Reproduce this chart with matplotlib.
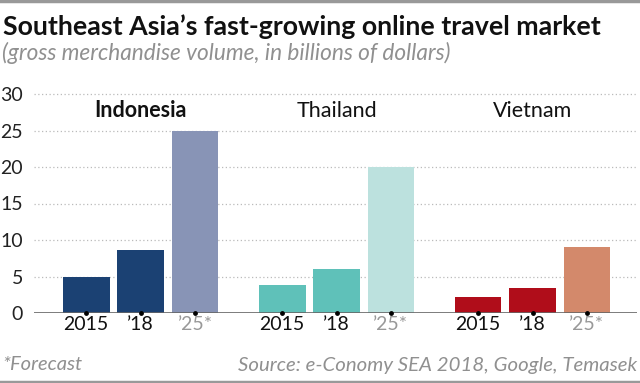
import matplotlib.pyplot as plt
import matplotlib.lines as mlines

plt.rcParams['font.family'] = ['Lato', 'DejaVu Sans']

countries = ["Indonesia", "Thailand", "Vietnam"]
years = ["2015", "\u201918", "\u201925*"]
values = {
    "Indonesia": [5.0, 8.6, 25.0],
    "Thailand": [3.8, 6.0, 20.0],
    "Vietnam": [2.2, 3.4, 9.0],
}
colors = {
    "Indonesia": ["#1b4173", "#1b4173", "#8894b6"],
    "Thailand": ["#5fc1b9", "#5fc1b9", "#bce1de"],
    "Vietnam": ["#b00d1a", "#b00d1a", "#d3896b"],
}
yticks = [0, 5, 10, 15, 20, 25, 30]

fig = plt.figure(figsize=(6.4, 3.83), dpi=100)
ax = fig.add_axes([34 / 640, 70 / 383, 603 / 640, 219 / 383])

group_gap = 3.6
xs, labels = [], []
for g, c in enumerate(countries):
    pos = [g * group_gap + i for i in range(3)]
    ax.bar(pos, values[c], width=0.86, color=colors[c], zorder=2)
    ax.scatter(pos, [0] * 3, s=6, color="black", zorder=4, clip_on=False)
    ax.text(pos[1], 27.7, c, ha="center", va="center", fontsize=15.5,
            fontweight="bold" if c == "Indonesia" else "normal", color="#111111")
    xs += pos
    labels += years

ax.set_xlim(-0.96, 2 * group_gap + 2 + 0.92)
ax.set_ylim(0, 30)
ax.set_yticks(yticks)
ax.set_yticklabels([str(v) for v in yticks], fontsize=14, color="#222222")
ax.set_xticks(xs)
ax.set_xticklabels(labels, fontsize=14)
for i, t in enumerate(ax.get_xticklabels()):
    t.set_color("#999999" if i % 3 == 2 else "#111111")
ax.tick_params(axis="both", length=0, pad=2)
ax.tick_params(axis="y", pad=8)

for v in yticks[1:]:
    ax.axhline(v, color="#bbbbbb", lw=0.9, ls=(0, (1, 2)), zorder=1, clip_on=False)
ax.axhline(0, color="#666666", lw=1.2, zorder=3)
for s in ax.spines.values():
    s.set_visible(False)

fig.text(3, 383 - 35, "Southeast Asia\u2019s fast-growing online travel market",
         transform=None, fontsize=19.3, fontweight="bold", va="baseline", color="#111111")
fig.text(2, 383 - 53, "(gross merchandise volume, in billions of dollars)",
         transform=None, fontsize=16.3, style="italic",
         va="center", color="#909090")
fig.text(2, 383 - 365, "*Forecast", transform=None, fontsize=14.5, style="italic",
         va="center", color="#909090")
fig.text(637, 383 - 365, "Source: e-Conomy SEA 2018, Google, Temasek", transform=None,
         fontsize=14.7, style="italic", va="center", ha="right",
         color="#909090")

fig.add_artist(mlines.Line2D([0, 1], [0.998, 0.998], color="#999999", lw=2.5))
fig.add_artist(mlines.Line2D([0, 1], [0.003, 0.003], color="#999999", lw=2.5))

fig.savefig("out.png", dpi=100)
